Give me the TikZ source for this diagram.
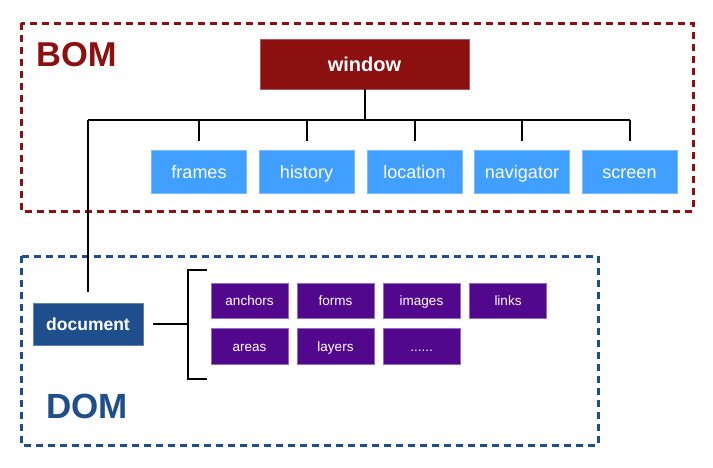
\documentclass[tikz,border=0pt]{standalone}
\usepackage{fontspec}
\setmainfont{Liberation Sans}
\definecolor{bomred}{HTML}{8C1010}
\definecolor{lightblue}{HTML}{409FFF}
\definecolor{domblue}{HTML}{1F4E8C}
\definecolor{violet}{HTML}{52088C}
\begin{document}
\begin{tikzpicture}[x=1pt,y=-1pt,
  frame/.style={line width=3pt,dash pattern=on 7pt off 5pt},
  boxbase/.style={text=white,line width=0.6pt,inner sep=0pt,text depth=0pt},
  bombox/.style={boxbase,fill=bomred,draw=bomred!70!white,font=\bfseries\fontsize{20}{24}\selectfont,text height=14.6pt,minimum width=209pt,minimum height=50pt},
  objbox/.style={boxbase,fill=lightblue,draw=lightblue!70!white,font=\fontsize{18}{22}\selectfont,text height=13.1pt,minimum width=95pt,minimum height=43pt},
  docbox/.style={boxbase,fill=domblue,draw=domblue!70!white,font=\bfseries\fontsize{17.5}{21}\selectfont,text height=12.8pt,minimum width=110pt,minimum height=42pt},
  subbox/.style={boxbase,fill=violet,draw=violet!60!white,font=\fontsize{13.5}{16}\selectfont,text height=9.9pt,minimum width=77pt,minimum height=35.5pt},
  wire/.style={line width=2pt,black}]
\useasboundingbox (0,0) rectangle (713,467);
% frames
\draw[frame,bomred] (21,23) rectangle (693,211);
\draw[frame,domblue] (21,256) rectangle (598,445);
% labels
\node[anchor=base west,inner sep=0pt,text=bomred,font=\bfseries\fontsize{34.5}{40}\selectfont] (bom) at (36,66) {BOM};
\node[anchor=base west,inner sep=0pt,text=domblue,font=\bfseries\fontsize{35}{42}\selectfont] (dom) at (46,418) {DOM};
% nodes
\node[bombox] (window) at (364.5,64) {window};
\node[objbox] (frames) at (199,171.5) {frames};
\node[objbox] (history) at (306.5,171.5) {history};
\node[objbox] (location) at (414.5,171.5) {location};
\node[objbox] (navigator) at (522,171.5) {navigator};
\node[objbox] (screen) at (629.5,171.5) {screen};
\node[docbox] (doc) at (88,324) {document};
\node[subbox] (anchors) at (249.5,301) {anchors};
\node[subbox] (forms) at (335.5,301) {forms};
\node[subbox] (images) at (421.5,301) {images};
\node[subbox] (links) at (508,301) {links};
\node[subbox] (areas) at (249.5,346.5) {areas};
\node[subbox] (layers) at (335.5,346.5) {layers};
\node[subbox] (more) at (421.5,346.5) {......};
% connectors
\coordinate (busL) at (88,120);
\coordinate (busR) at (629.5,120);
\draw[wire] (window.south) -- (window.south |- busL);
\draw[wire] (busL) -- (busR);
\foreach \n in {frames,history,location,navigator,screen}
  \draw[wire] (\n.north |- busL) -- ([yshift=9pt]\n.north);
\draw[wire] (busL) -- ([yshift=11pt]doc.north);
\coordinate (brT) at (188,270);
\coordinate (brB) at (188,379);
\draw[wire] ([xshift=10pt]doc.east) -- (doc.east -| brT);
\draw[wire] ([xshift=19pt]brT) -- (brT) -- (brB) -- ([xshift=19pt]brB);
\end{tikzpicture}
\end{document}
